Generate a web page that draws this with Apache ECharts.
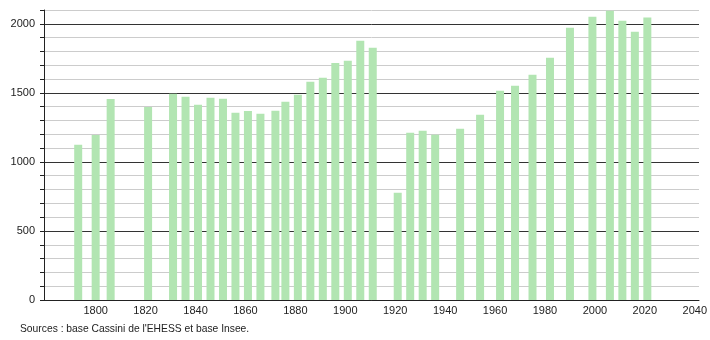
<!DOCTYPE html>
<html>
<head>
<meta charset="utf-8">
<script src="https://cdn.jsdelivr.net/npm/echarts@6/dist/echarts.min.js"></script>
<style>
html,body{margin:0;padding:0;background:#fff;}
#main{width:710px;height:340px;}
</style>
</head>
<body>
<div id="main"></div>
<script>
var years = [1793,1800,1806,1821,1831,1836,1841,1846,1851,1856,1861,1866,1872,1876,1881,1886,1891,1896,1901,1906,1911,1921,1926,1931,1936,1946,1954,1962,1968,1975,1982,1990,1999,2006,2011,2016,2021];
var population = [1124,1194,1455,1397,1494,1472,1414,1465,1458,1356,1368,1349,1371,1436,1487,1581,1610,1716,1733,1878,1827,776,1211,1225,1197,1240,1342,1516,1552,1632,1755,1972,2052,2095,2023,1943,2045];
var xTickLabels = [1800,1820,1840,1860,1880,1900,1920,1940,1960,1980,2000,2020,2040];
var sourceText = "Sources : base Cassini de l'EHESS et base Insee.";

var data = years.map(function(y,i){return [y, population[i]];});
var chart = echarts.init(document.getElementById('main'));
var font = 'Liberation Sans, Arial, sans-serif';
chart.setOption({
  animation:false,
  grid:{left:44, right:10, top:10, bottom:40, containLabel:false},
  xAxis:{
    type:'value', min:1779.3, max:2041.7,
    axisLine:{show:true, onZero:false, lineStyle:{color:'#222', width:1}},
    axisTick:{show:false},
    splitLine:{show:false},
    axisLabel:{customValues:xTickLabels, color:'#222', fontSize:11, fontFamily:font, margin:5,
      formatter:function(v){return String(v);}}
  },
  yAxis:[{
    type:'value', min:0, max:2100, interval:100,
    axisLine:{show:true, lineStyle:{color:'#222'}},
    axisTick:{show:true, length:4, lineStyle:{color:'#222'}},
    axisLabel:{show:false},
    splitLine:{show:true, lineStyle:{color:'#cccccc', width:1}}
  },{
    type:'value', min:0, max:2100, interval:500, position:'left',
    axisLine:{show:false},
    axisTick:{show:false},
    axisLabel:{show:true, color:'#222', fontSize:11, fontFamily:font, margin:9,
      formatter:function(v){return v % 500 === 0 ? String(v) : '';}},
    splitLine:{show:true, showMaxLine:false, lineStyle:{color:'#333', width:1}}
  }],
  series:[{
    type:'bar', xAxisIndex:0, yAxisIndex:0, data:data, barWidth:8,
    itemStyle:{color:'#b2e5b2'}
  }],
  graphic:[{
    type:'text', left:20, top:324,
    style:{text:sourceText, fill:'#222', fontSize:10.3, fontFamily:font}
  }]
});
</script>
</body>
</html>
